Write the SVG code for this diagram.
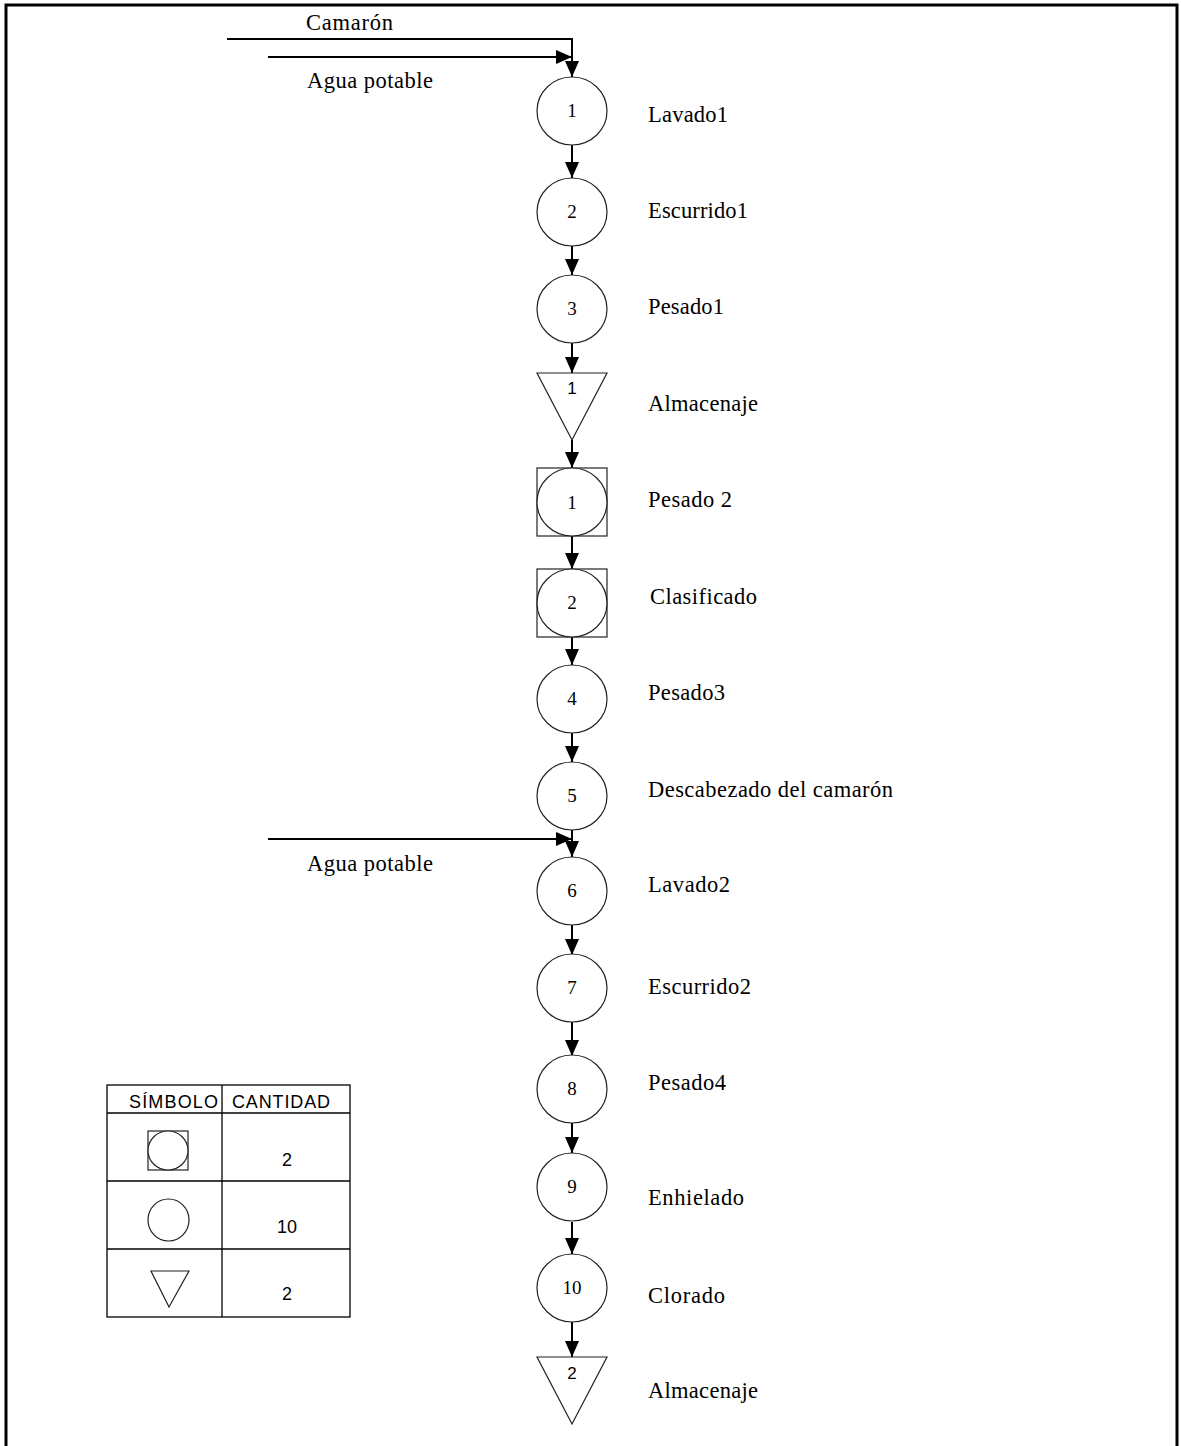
<svg xmlns="http://www.w3.org/2000/svg" width="1181" height="1446" viewBox="0 0 1181 1446">
<style>
.nd{fill:#fff;stroke:#222;stroke-width:1.2}
.lb{font-family:"Liberation Serif",serif;font-size:22.5px;fill:#000}
.num{font-family:"Liberation Serif",serif;font-size:19px;fill:#000;text-anchor:middle}
.snum{font-family:"Liberation Sans",Arial,sans-serif;font-size:17px;fill:#000;text-anchor:middle}
.tb{font-family:"Liberation Sans",Arial,sans-serif;font-size:18px;fill:#000}
.cn{fill:none;stroke:#000;stroke-width:2}
.tl{fill:none;stroke:#000;stroke-width:1.3}
</style>
<defs>
<marker id="ah" markerUnits="userSpaceOnUse" markerWidth="16" markerHeight="16" viewBox="0 0 16 16" refX="16" refY="8" orient="auto">
<path d="M0,1 L16,8 L0,15 Z" fill="#000"/>
</marker>
</defs>
<rect x="0" y="0" width="1181" height="1446" fill="#fff"/>
<rect x="6" y="5" width="1171" height="1450" fill="none" stroke="#000" stroke-width="3"/>

<g id="connectors">
<path class="cn" d="M227,39 H572 V77" marker-end="url(#ah)"/>
<path class="cn" d="M268,57 H572" marker-end="url(#ah)"/>
<path class="cn" d="M572,145 V178" marker-end="url(#ah)"/>
<path class="cn" d="M572,246 V275" marker-end="url(#ah)"/>
<path class="cn" d="M572,343 V373" marker-end="url(#ah)"/>
<path class="cn" d="M572,440 V468" marker-end="url(#ah)"/>
<path class="cn" d="M572,536 V569" marker-end="url(#ah)"/>
<path class="cn" d="M572,637 V665" marker-end="url(#ah)"/>
<path class="cn" d="M572,733 V762" marker-end="url(#ah)"/>
<path class="cn" d="M572,825 V857" marker-end="url(#ah)"/>
<path class="cn" d="M268,839 H572" marker-end="url(#ah)"/>
<path class="cn" d="M572,925 V955" marker-end="url(#ah)"/>
<path class="cn" d="M572,1022 V1056" marker-end="url(#ah)"/>
<path class="cn" d="M572,1123 V1153" marker-end="url(#ah)"/>
<path class="cn" d="M572,1222 V1254" marker-end="url(#ah)"/>
<path class="cn" d="M572,1322 V1357" marker-end="url(#ah)"/>
<text class="lb" x="306" y="30" textLength="87">Camarón</text>
<text class="lb" x="307" y="88" textLength="126">Agua potable</text>
<text class="lb" x="307" y="871" textLength="126">Agua potable</text>
</g>

<g id="n1"><ellipse class="nd" cx="572" cy="111" rx="35" ry="34"/><text class="num" x="572" y="117">1</text><text class="lb" x="648" y="122" textLength="80">Lavado1</text></g>
<g id="n2"><ellipse class="nd" cx="572" cy="212" rx="35" ry="34"/><text class="num" x="572" y="218">2</text><text class="lb" x="648" y="218" textLength="100">Escurrido1</text></g>
<g id="n3"><ellipse class="nd" cx="572" cy="309" rx="35" ry="34"/><text class="num" x="572" y="315">3</text><text class="lb" x="648" y="314" textLength="76">Pesado1</text></g>
<g id="t1"><path class="nd" d="M537,373 H607 L572,440 Z"/><text class="snum" x="572" y="394">1</text><text class="lb" x="648" y="411" textLength="110">Almacenaje</text></g>
<g id="s1"><rect class="nd" x="537" y="468" width="70" height="68"/><ellipse class="nd" cx="572" cy="502" rx="35" ry="34"/><text class="num" x="572" y="509">1</text><text class="lb" x="648" y="507" textLength="84">Pesado 2</text></g>
<g id="s2"><rect class="nd" x="537" y="569" width="70" height="68"/><ellipse class="nd" cx="572" cy="603" rx="35" ry="34"/><text class="num" x="572" y="609">2</text><text class="lb" x="650" y="604" textLength="107">Clasificado</text></g>
<g id="n4"><ellipse class="nd" cx="572" cy="699" rx="35" ry="34"/><text class="num" x="572" y="705">4</text><text class="lb" x="648" y="700" textLength="77">Pesado3</text></g>
<g id="n5"><ellipse class="nd" cx="572" cy="796" rx="35" ry="34"/><text class="num" x="572" y="802">5</text><text class="lb" x="648" y="797" textLength="245">Descabezado del camarón</text></g>
<g id="n6"><ellipse class="nd" cx="572" cy="891" rx="35" ry="34"/><text class="num" x="572" y="897">6</text><text class="lb" x="648" y="892" textLength="82">Lavado2</text></g>
<g id="n7"><ellipse class="nd" cx="572" cy="988" rx="35" ry="34"/><text class="num" x="572" y="994">7</text><text class="lb" x="648" y="994" textLength="103">Escurrido2</text></g>
<g id="n8"><ellipse class="nd" cx="572" cy="1089" rx="35" ry="34"/><text class="num" x="572" y="1095">8</text><text class="lb" x="648" y="1090" textLength="78">Pesado4</text></g>
<g id="n9"><ellipse class="nd" cx="572" cy="1187" rx="35" ry="34"/><text class="num" x="572" y="1193">9</text><text class="lb" x="648" y="1205" textLength="96">Enhielado</text></g>
<g id="n10"><ellipse class="nd" cx="572" cy="1288" rx="35" ry="34"/><text class="num" x="572" y="1294">10</text><text class="lb" x="648" y="1303" textLength="77">Clorado</text></g>
<g id="t2"><path class="nd" d="M537,1357 H607 L572,1424 Z"/><text class="snum" x="572" y="1379">2</text><text class="lb" x="648" y="1398" textLength="110">Almacenaje</text></g>

<g id="legend">
<rect class="tl" x="107" y="1085" width="243" height="232"/>
<line class="tl" x1="222" y1="1085" x2="222" y2="1317"/>
<line class="tl" x1="107" y1="1113" x2="350" y2="1113"/>
<line class="tl" x1="107" y1="1181" x2="350" y2="1181"/>
<line class="tl" x1="107" y1="1249" x2="350" y2="1249"/>
<text class="tb" x="129" y="1108" textLength="89">SÍMBOLO</text>
<text class="tb" x="232" y="1108" textLength="98">CANTIDAD</text>
<rect class="nd" x="148" y="1131" width="40" height="39"/>
<ellipse class="nd" cx="168" cy="1150.5" rx="20" ry="19.5"/>
<ellipse class="nd" cx="168.5" cy="1220" rx="20.5" ry="21"/>
<path class="nd" d="M151,1271 H189 L169,1307 Z"/>
<text class="tb" x="287" y="1166" text-anchor="middle">2</text>
<text class="tb" x="287" y="1233" text-anchor="middle">10</text>
<text class="tb" x="287" y="1300" text-anchor="middle">2</text>
</g>
</svg>
